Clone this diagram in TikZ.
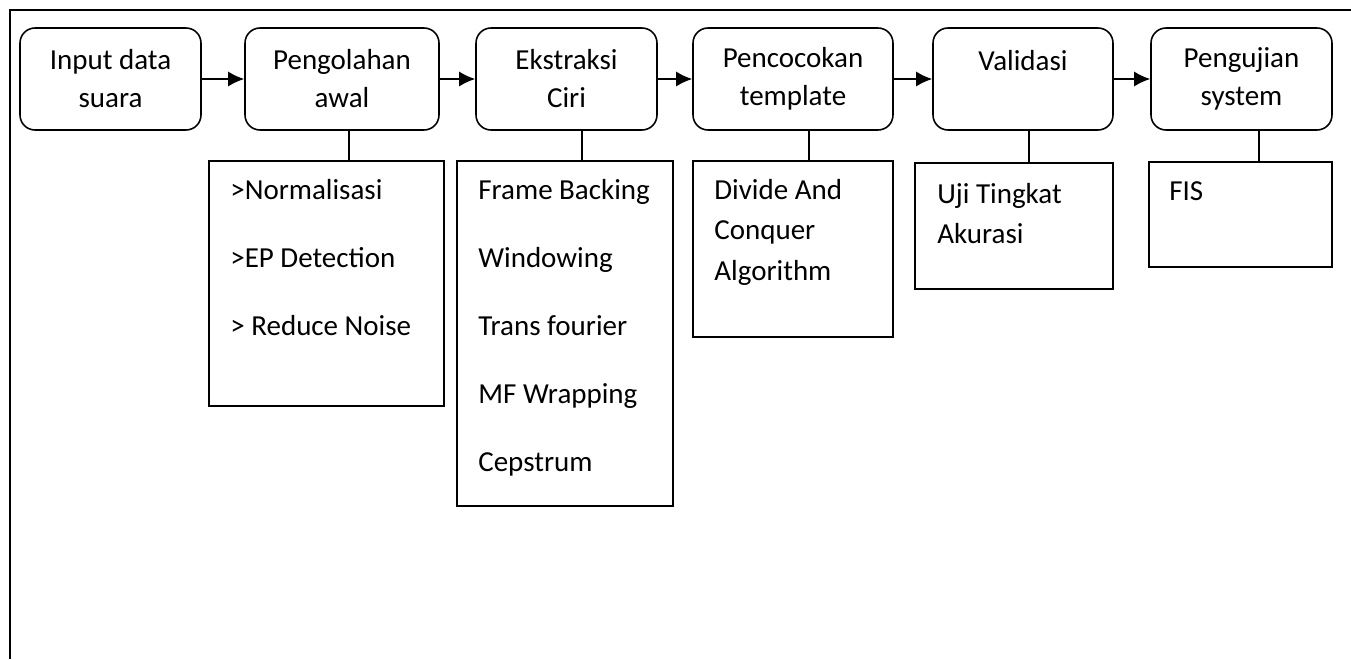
\documentclass[tikz,border=0pt]{standalone}
\usepackage{fontspec}
\setmainfont{Carlito}
\usetikzlibrary{arrows.meta}

\begin{document}
\begin{tikzpicture}[x=0.02cm,y=-0.02cm,
        every node/.style={font=\fontsize{16.5}{21.6}\selectfont},
        stage/.style={draw,line width=0.9pt,rounded corners=0.3cm,align=center,minimum height=2.04cm,inner sep=0pt},
        detail/.style={draw,line width=0.9pt,inner sep=0pt},
        items/.style={anchor=north west,align=left,inner sep=0pt},
        flow/.style={line width=0.9pt,-{Latex[length=0.32cm,width=0.3cm]}},
        link/.style={line width=0.9pt}]
      \useasboundingbox (0,0) rectangle (1351,659);
      % frame
      \coordinate (tl) at (10,10);
      \coordinate (tr) at (1351,10);
      \coordinate (bl) at (10,659);
      \draw[line width=1.1pt] (tr) -- (tl) -- (bl);
      % stages
      \node[stage,minimum width=3.62cm] (input) at (110.5,79) {Input data\\suara};
      \node[stage,minimum width=3.88cm] (awal) at (342,79) {Pengolahan\\awal};
      \node[stage,minimum width=3.62cm] (ciri) at (566.5,79) {Ekstraksi\\Ciri};
      \node[stage,minimum width=4.0cm] (cocok) at (793,79) {Pencocokan\\template};
      \node[stage,minimum width=3.6cm] (valid) at (1023,79) {Validasi\\\phantom{x}};
      \node[stage,minimum width=3.62cm] (uji) at (1241.5,79) {Pengujian\\system};
      \draw[flow] (input) -- (awal);
      \draw[flow] (awal) -- (ciri);
      \draw[flow] (ciri) -- (cocok);
      \draw[flow] (cocok) -- (valid);
      \draw[flow] (valid) -- (uji);
      % detail boxes
      \node[detail,minimum width=4.7cm,minimum height=4.9cm] (awalbox) at (326.5,283.5) {};
      \node[detail,minimum width=4.32cm,minimum height=6.9cm] (ciribox) at (565,333.5) {};
      \node[detail,minimum width=4.0cm,minimum height=3.52cm] (cocokbox) at (793,249) {};
      \node[detail,minimum width=3.96cm,minimum height=2.52cm] (validbox) at (1014,226) {};
      \node[detail,minimum width=3.66cm,minimum height=2.1cm] (ujibox) at (1240.5,214.5) {};
      \node[items,font=\fontsize{16.5}{38.7}\selectfont] (awaltxt) at (230,179) {>Normalisasi\\>EP Detection\\> Reduce Noise};
      \node[items,font=\fontsize{16.5}{38.7}\selectfont] (ciritxt) at (478,179) {Frame Backing\\Windowing\\Trans fourier\\MF Wrapping\\Cepstrum};
      \node[items,font=\fontsize{16.5}{23}\selectfont] (cocoktxt) at (714,179) {Divide And\\Conquer\\Algorithm};
      \node[items,font=\fontsize{16.5}{22.8}\selectfont] (validtxt) at (937,183) {Uji Tingkat\\Akurasi};
      \node[items] (ujitxt) at (1169,181) {FIS};
      \draw[link] ([xshift=0.14cm]awal.south) -- ([xshift=0.14cm]awal.south |- awalbox.north);
      \draw[link] ([xshift=0.31cm]ciri.south) -- ([xshift=0.31cm]ciri.south |- ciribox.north);
      \draw[link] ([xshift=0.32cm]cocok.south) -- ([xshift=0.32cm]cocok.south |- cocokbox.north);
      \draw[link] ([xshift=0.12cm]valid.south) -- ([xshift=0.12cm]valid.south |- validbox.north);
      \draw[link] ([xshift=0.35cm]uji.south) -- ([xshift=0.35cm]uji.south |- ujibox.north);
\end{tikzpicture}
\end{document}
